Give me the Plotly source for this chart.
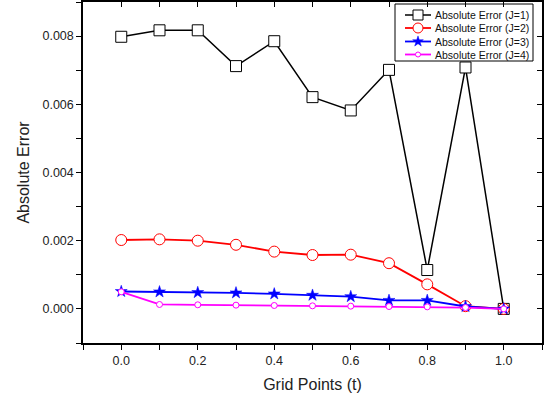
import plotly.graph_objects as go

t = [0.0, 0.1, 0.2, 0.3, 0.4, 0.5, 0.6, 0.7, 0.8, 0.9, 1.0]
err_j1 = [0.00798, 0.00817, 0.00817, 0.00712, 0.00785, 0.00621, 0.00582, 0.00701, 0.00114, 0.00708, 0.0]
err_j2 = [0.00202, 0.00204, 0.00200, 0.00188, 0.00168, 0.00158, 0.00159, 0.00134, 0.00072, 0.00008, 0.0]
err_j3 = [0.00051, 0.00050, 0.00048, 0.00047, 0.00044, 0.00040, 0.00036, 0.00025, 0.00025, 0.00007, 0.0]
err_j4 = [0.00050, 0.00013, 0.00012, 0.00011, 0.00010, 0.00009, 0.00008, 0.00007, 0.00006, 0.00004, 0.0]
names = ["Absolute Error (J=1)", "Absolute Error (J=2)", "Absolute Error (J=3)", "Absolute Error (J=4)"]
series = [err_j1, err_j2, err_j3, err_j4]

colors = ["black", "red", "blue", "magenta"]
markers = [
    dict(symbol="square", size=11, color="white", line=dict(color="black", width=1)),
    dict(symbol="circle", size=11, color="white", line=dict(color="red", width=1)),
    dict(symbol="star", size=9, color="blue", line=dict(color="blue", width=0.5)),
    dict(symbol="circle", size=6, color="white", line=dict(color="magenta", width=1)),
]
widths = [1.5, 1.8, 1.8, 1.8]

fig = go.Figure()
for name, ys, c, m, w in zip(names, series, colors, markers, widths):
    fig.add_trace(go.Scatter(x=t, y=ys, name=name, mode="lines+markers",
                             line=dict(color=c, width=w), marker=m, showlegend=False))

# invisible trace to activate mirrored top/right axes
fig.add_trace(go.Scatter(x=[0.5], y=[0.004], xaxis="x2", yaxis="y2", mode="markers",
                         marker=dict(opacity=0), showlegend=False, hoverinfo="skip"))

# custom legend drawn on an overlay axis measured in plot-area pixels
plot_w, plot_h = 459, 341
leg_x0, leg_x1, leg_y0, leg_y1 = 312, 450, 2, 59
row_y = [13, 26, 39.5, 52.5]
fig.add_trace(go.Scatter(x=[leg_x0, leg_x1, leg_x1, leg_x0, leg_x0],
                         y=[leg_y0, leg_y0, leg_y1, leg_y1, leg_y0],
                         xaxis="x3", yaxis="y3", mode="lines", fill="toself",
                         fillcolor="white", line=dict(color="black", width=1),
                         showlegend=False, hoverinfo="skip"))
for name, c, m, w, ry in zip(names, colors, markers, widths, row_y):
    fig.add_trace(go.Scatter(x=[322, 348], y=[ry, ry], xaxis="x3", yaxis="y3", mode="lines",
                             line=dict(color=c, width=w), showlegend=False, hoverinfo="skip"))
    mm = dict(m)
    mm["size"] = max(m["size"] - 1, 5)
    fig.add_trace(go.Scatter(x=[335], y=[ry], xaxis="x3", yaxis="y3", mode="markers",
                             marker=mm, showlegend=False, hoverinfo="skip"))
    fig.add_annotation(x=350, y=ry, xref="x3", yref="y3", text=name, showarrow=False,
                       xanchor="left", yanchor="middle",
                       font=dict(size=10.5, color="#111"))

font = "Liberation Sans, Arial, sans-serif"
fig.update_layout(
    width=560, height=403,
    margin=dict(l=83, r=18, t=2, b=60),
    plot_bgcolor="white", paper_bgcolor="white",
    font=dict(family=font, color="#222"),
    showlegend=False,
    xaxis=dict(range=[-0.1, 1.1], tickmode="array", automargin=False,
               tickvals=[0.0, 0.2, 0.4, 0.6, 0.8, 1.0],
               ticktext=["0.0", "0.2", "0.4", "0.6", "0.8", "1.0"],
               ticks="outside", ticklen=5, tickwidth=1, tickcolor="black",
               minor=dict(tickvals=[-0.1, 0.1, 0.3, 0.5, 0.7, 0.9, 1.1], ticks="outside",
                          ticklen=5, tickwidth=1, tickcolor="black"),
               showline=True, linecolor="black", linewidth=1.5,
               showgrid=False, zeroline=False,
               tickfont=dict(size=12.5),
               title=dict(text="Grid Points (t)", font=dict(size=16), standoff=12)),
    yaxis=dict(range=[-0.001, 0.009], tickmode="array", automargin=False,
               tickvals=[0.0, 0.002, 0.004, 0.006, 0.008],
               ticktext=["0.000", "0.002", "0.004", "0.006", "0.008"],
               ticks="outside", ticklen=5, tickwidth=1, tickcolor="black",
               minor=dict(tickvals=[-0.001, 0.001, 0.003, 0.005, 0.007, 0.009], ticks="outside",
                          ticklen=5, tickwidth=1, tickcolor="black"),
               showline=True, linecolor="black", linewidth=1.5,
               showgrid=False, zeroline=False,
               tickfont=dict(size=12.5),
               title=dict(text="Absolute Error", font=dict(size=16), standoff=9)),
    xaxis2=dict(overlaying="x", matches="x", side="top", anchor="y2", automargin=False,
                range=[-0.1, 1.1], tickmode="array",
                tickvals=[-0.1, 0.0, 0.1, 0.2, 0.3, 0.4, 0.5, 0.6, 0.7, 0.8, 0.9, 1.0, 1.1],
                showticklabels=False, ticks="inside", ticklen=5, tickcolor="black",
                showline=True, linecolor="black", linewidth=1.5,
                showgrid=False, zeroline=False),
    yaxis2=dict(overlaying="y", matches="y", side="right", anchor="x2", automargin=False,
                range=[-0.001, 0.009], tickmode="array",
                tickvals=[-0.001, 0.0, 0.001, 0.002, 0.003, 0.004, 0.005, 0.006, 0.007, 0.008, 0.009],
                showticklabels=False, ticks="inside", ticklen=5, tickcolor="black",
                showline=True, linecolor="black", linewidth=1.5,
                showgrid=False, zeroline=False),
    xaxis3=dict(overlaying="x", anchor="y3", range=[0, plot_w], visible=False,
                automargin=False, fixedrange=True),
    yaxis3=dict(overlaying="y", anchor="x3", range=[plot_h, 0], visible=False,
                automargin=False, fixedrange=True),
)

fig.write_html("out.html", config={"displayModeBar": False},
               post_script="document.body.style.margin='0';")
